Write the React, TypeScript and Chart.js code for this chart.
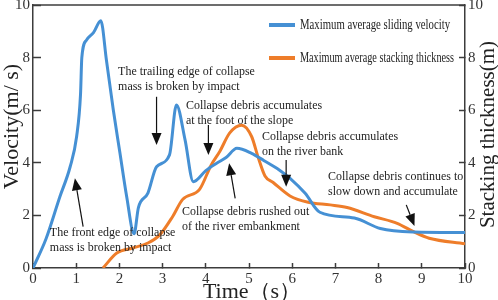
import React, { useEffect, useRef } from "react";
import { Chart, registerables } from "chart.js";

Chart.register(...registerables);

// ---- data ----
const velocityTime = [0, 0.3, 0.62, 0.86, 1.01, 1.1, 1.13, 1.24, 1.4, 1.57, 1.7, 1.86, 2.01, 2.17, 2.34, 2.44, 2.66, 2.86, 3.16, 3.32, 3.52, 3.71, 4.0, 4.25, 4.47, 4.72, 5.06, 5.35, 5.7, 5.95, 6.3, 6.64, 7.44, 8.04, 8.82, 10];
const velocityValues = [0, 1.1, 2.7, 3.85, 5.0, 6.6, 8.0, 8.67, 8.95, 9.4, 7.9, 6.0, 4.4, 2.7, 1.3, 2.3, 2.85, 3.85, 4.3, 6.2, 4.87, 3.28, 3.7, 3.98, 4.2, 4.55, 4.36, 4.08, 3.73, 3.41, 2.84, 2.12, 1.9, 1.5, 1.37, 1.35];

const thicknessTime = [1.62, 1.94, 2.31, 2.66, 2.93, 3.23, 3.46, 3.86, 4.12, 4.33, 4.55, 4.83, 5.06, 5.21, 5.37, 5.56, 5.95, 6.37, 6.88, 7.27, 7.9, 8.43, 8.82, 9.17, 10];
const thicknessValues = [0, 0.57, 0.76, 0.95, 1.25, 1.95, 2.6, 3.0, 3.9, 4.45, 5.13, 5.43, 5.0, 4.22, 3.5, 3.25, 2.74, 2.5, 2.4, 2.3, 1.95, 1.7, 1.37, 1.13, 0.92];

const seriesNames = ["Maximum average sliding velocity", "Maximum average stacking thickness"];
const xTitle = "Time（s）";
const yTitle = "Velocity(m/ s)";
const y1Title = "Stacking thickness(m)";

type Note = { lines: string[]; tx: number; ty: number; ax: number; ay: number; hx: number; hy: number };
const notes: Note[] = [
  { lines: ["The trailing edge of collapse", "mass is broken by impact"], tx: 1.97, ty: 7.47, ax: 2.86, ay: 6.51, hx: 2.86, hy: 4.68 },
  { lines: ["Collapse debris accumulates", "at the foot of the slope"], tx: 3.54, ty: 6.17, ax: 4.06, ay: 5.44, hx: 4.06, hy: 4.3 },
  { lines: ["Collapse debris accumulates", "on the river bank"], tx: 5.3, ty: 4.98, ax: 5.86, ay: 4.11, hx: 5.86, hy: 3.09 },
  { lines: ["Collapse debris rushed out", "of the river embankment"], tx: 3.45, ty: 2.13, ax: 4.68, ay: 2.65, hx: 4.54, hy: 3.98 },
  { lines: ["Collapse debris continues to", "slow down and accumulate"], tx: 6.83, ty: 3.46, ax: 8.64, ay: 2.4, hx: 8.83, hy: 1.6 },
  { lines: ["The front edge of collapse", "mass is broken by impact"], tx: 0.39, ty: 1.33, ax: 1.16, ay: 1.57, hx: 0.97, hy: 3.41 },
];

// ---- style ----
const BLUE = "#4590d4";
const ORANGE = "#ee7d2a";
const AXIS = "#3c3c3c";
const TEXT = "#222";
const SERIF = "'Liberation Serif', 'Times New Roman', serif";

const decorPlugin = {
  id: "decor",
  afterDatasetsDraw(chart: any) {
    const { ctx, chartArea: ca, scales } = chart;
    const xs = scales.x;
    const ys = scales.y;
    ctx.save();
    // top border
    ctx.strokeStyle = AXIS;
    ctx.lineWidth = 1.5;
    ctx.beginPath();
    ctx.moveTo(ca.left, ca.top);
    ctx.lineTo(ca.right, ca.top);
    ctx.stroke();

    // annotations
    ctx.fillStyle = TEXT;
    ctx.font = `13px ${SERIF}`;
    ctx.textBaseline = "middle";
    ctx.textAlign = "left";
    notes.forEach((n) => {
      const px = xs.getPixelForValue(n.tx);
      const py = ys.getPixelForValue(n.ty);
      n.lines.forEach((ln, i) => {
        ctx.save();
        ctx.translate(px, py + i * 15);
        ctx.scale(0.92, 1);
        ctx.fillText(ln, 0, 0);
        ctx.restore();
      });
      const x0 = xs.getPixelForValue(n.ax);
      const y0 = ys.getPixelForValue(n.ay);
      const x1 = xs.getPixelForValue(n.hx);
      const y1 = ys.getPixelForValue(n.hy);
      const ang = Math.atan2(y1 - y0, x1 - x0);
      const hl = 12;
      const hw = 5;
      const bx = x1 - hl * Math.cos(ang);
      const by = y1 - hl * Math.sin(ang);
      ctx.strokeStyle = "#111";
      ctx.lineWidth = 1.2;
      ctx.beginPath();
      ctx.moveTo(x0, y0);
      ctx.lineTo(bx, by);
      ctx.stroke();
      ctx.fillStyle = "#111";
      ctx.beginPath();
      ctx.moveTo(x1, y1);
      ctx.lineTo(bx + hw * Math.sin(ang), by - hw * Math.cos(ang));
      ctx.lineTo(bx - hw * Math.sin(ang), by + hw * Math.cos(ang));
      ctx.closePath();
      ctx.fill();
      ctx.fillStyle = TEXT;
    });

    // legend
    const legendItems = [
      { name: seriesNames[0], color: BLUE, dy: 20, w: 150 },
      { name: seriesNames[1], color: ORANGE, dy: 53, w: 154 },
    ];
    ctx.font = `14px ${SERIF}`;
    legendItems.forEach((it) => {
      const y = ca.top + it.dy;
      ctx.strokeStyle = it.color;
      ctx.lineWidth = 4;
      ctx.beginPath();
      ctx.moveTo(ca.left + 236, y);
      ctx.lineTo(ca.left + 262, y);
      ctx.stroke();
      ctx.fillStyle = TEXT;
      ctx.fillText(it.name, ca.left + 267, y, it.w);
    });

    // axis titles
    ctx.fillStyle = TEXT;
    ctx.textAlign = "center";
    ctx.textBaseline = "middle";
    ctx.font = `22px ${SERIF}`;
    ctx.save();
    ctx.translate(12, (ca.top + ca.bottom) / 2 - 10);
    ctx.rotate(-Math.PI / 2);
    ctx.fillText(yTitle, 0, 0);
    ctx.restore();

    ctx.font = `21px ${SERIF}`;
    ctx.save();
    ctx.translate(chart.width - 10, (ca.top + ca.bottom) / 2 - 2);
    ctx.rotate(-Math.PI / 2);
    ctx.fillText(y1Title, 0, 0);
    ctx.restore();

    ctx.font = `22px ${SERIF}`;
    ctx.textBaseline = "alphabetic";
    ctx.fillText(xTitle, (ca.left + ca.right) / 2 + 3, ca.bottom + 30);
    ctx.restore();
  },
};

export default function App() {
  const ref = useRef<HTMLCanvasElement | null>(null);

  useEffect(() => {
    if (!ref.current) return;
    const tickFont = { family: SERIF, size: 15 };
    const chart = new Chart(ref.current, {
      type: "line",
      data: {
        datasets: [
          {
            label: seriesNames[0],
            data: velocityTime.map((t, i) => ({ x: t, y: velocityValues[i] })),
            borderColor: BLUE,
            borderWidth: 3,
            pointRadius: 0,
            cubicInterpolationMode: "monotone",
            yAxisID: "y",
          },
          {
            label: seriesNames[1],
            data: thicknessTime.map((t, i) => ({ x: t, y: thicknessValues[i] })),
            borderColor: ORANGE,
            borderWidth: 3,
            pointRadius: 0,
            cubicInterpolationMode: "monotone",
            yAxisID: "y1",
          },
        ],
      },
      options: {
        animation: false,
        responsive: true,
        maintainAspectRatio: false,
        layout: { padding: { top: 5, left: 0, right: 0, bottom: 0 } },
        plugins: { legend: { display: false }, tooltip: { enabled: false } },
        scales: {
          x: {
            type: "linear",
            min: 0,
            max: 10,
            ticks: { stepSize: 1, font: tickFont, color: "#333", padding: 7, maxRotation: 0, autoSkip: false },
            grid: { drawOnChartArea: false, drawTicks: true, tickLength: -5, tickColor: AXIS, tickWidth: 1.5 },
            border: { color: AXIS, width: 1.5 },
            afterFit(s: any) {
              s.height = 32;
              s.paddingLeft = 0;
              s.paddingRight = 0;
            },
          },
          y: {
            type: "linear",
            position: "left",
            min: 0,
            max: 10,
            ticks: { stepSize: 2, font: tickFont, color: "#333", padding: 11 },
            grid: { drawOnChartArea: false, drawTicks: true, tickLength: -8, tickColor: AXIS, tickWidth: 1.5 },
            border: { color: AXIS, width: 1.5 },
            afterFit(s: any) {
              s.width = 33;
              s.paddingTop = 0;
              s.paddingBottom = 0;
            },
          },
          y1: {
            type: "linear",
            position: "right",
            min: 0,
            max: 10,
            ticks: { stepSize: 2, font: tickFont, color: "#333", padding: 9 },
            grid: { drawOnChartArea: false, drawTicks: true, tickLength: -6, tickColor: AXIS, tickWidth: 1.5 },
            border: { color: AXIS, width: 1.5 },
            afterFit(s: any) {
              s.width = 33;
              s.paddingTop = 0;
              s.paddingBottom = 0;
            },
          },
        },
      },
      plugins: [decorPlugin],
    } as any);
    return () => chart.destroy();
  }, []);

  return (
    <div style={{ position: "fixed", left: 0, top: 0, width: 498, height: 300, background: "#fff" }}>
      <canvas ref={ref} />
    </div>
  );
}
